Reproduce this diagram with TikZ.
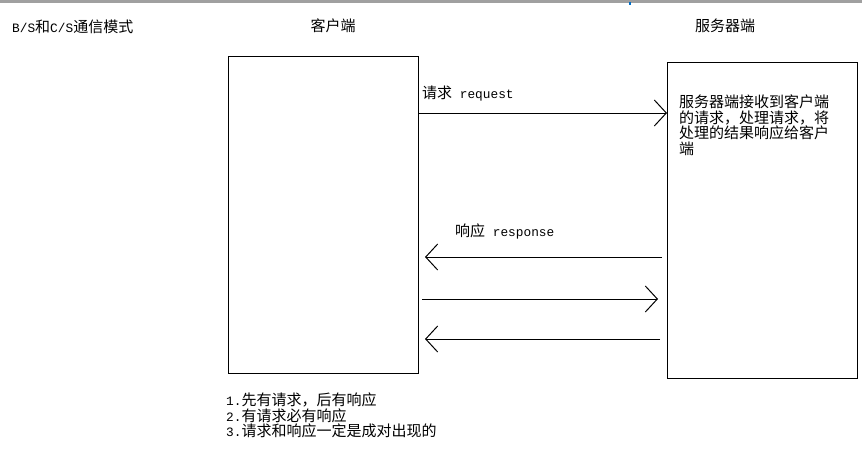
\documentclass[tikz,border=0pt]{standalone}
\usepackage{fontspec}
\setmainfont{Liberation Mono}
\newfontfamily\cjkfont{Noto Sans CJK SC}
\newcommand\zh[1]{{\cjkfont\fontsize{15}{15.5}\selectfont #1}}
\usetikzlibrary{arrows.meta,calc}
\tikzset{
  txt/.style={inner sep=0pt, anchor=west, font=\fontsize{12.8}{15.5}\selectfont},
  mlines/.style={txt, align=left, anchor=north west},
  panel/.style={draw=black, line width=1pt, inner sep=0pt, anchor=north west},
  msg/.style={draw=black, line width=1pt, -{Straight Barb[length=12pt,width=26pt,line width=1pt]}},
}
\definecolor{topbar}{RGB}{160,160,160}
\definecolor{tickblue}{RGB}{0,110,200}
\begin{document}
\begin{tikzpicture}[x=1pt,y=-1pt]
\useasboundingbox (0,0) rectangle (862,453);
\fill[white] (0,0) rectangle (862,453);
\fill[topbar] (0,0) rectangle (862,3);
\fill[tickblue] (629,2) rectangle (631,5);

\node[txt] (title) at (12,27) {B/S\zh{和}C/S\zh{通信模式}};
\node[txt, anchor=center] (clientlbl) at (333,26) {\zh{客户端}};
\node[txt, anchor=center] (serverlbl) at (725,26) {\zh{服务器端}};

\node[panel, minimum width=190pt, minimum height=317pt] (client) at (228,56) {};
\node[panel, minimum width=190pt, minimum height=316pt] (server) at (667,62) {};

\node[mlines] (srvtext) at (679,95) {\zh{服务器端接收到客户端}\\\zh{的请求，处理请求，将}\\\zh{处理的结果响应给客户}\\\zh{端}};

\node[txt] (reqlbl) at (422,94) {\zh{请求} request};
\node[txt] (reslbl) at (455,231) {\zh{响应} response};

\draw[msg] (client.east |- 0,113) -- (server.west |- 0,113);
\draw[msg] ($(server.west |- 0,257)+(-5,0)$) -- ($(client.east |- 0,257)+(6,0)$);
\draw[msg] ($(client.east |- 0,299)+(3,0)$) -- ($(server.west |- 0,299)+(-9,0)$);
\draw[msg] ($(server.west |- 0,339)+(-7,0)$) -- ($(client.east |- 0,339)+(6,0)$);

\node[mlines] (notes) at (226,393) {1.\zh{先有请求，后有响应}\\2.\zh{有请求必有响应}\\3.\zh{请求和响应一定是成对出现的}};
\end{tikzpicture}
\end{document}
